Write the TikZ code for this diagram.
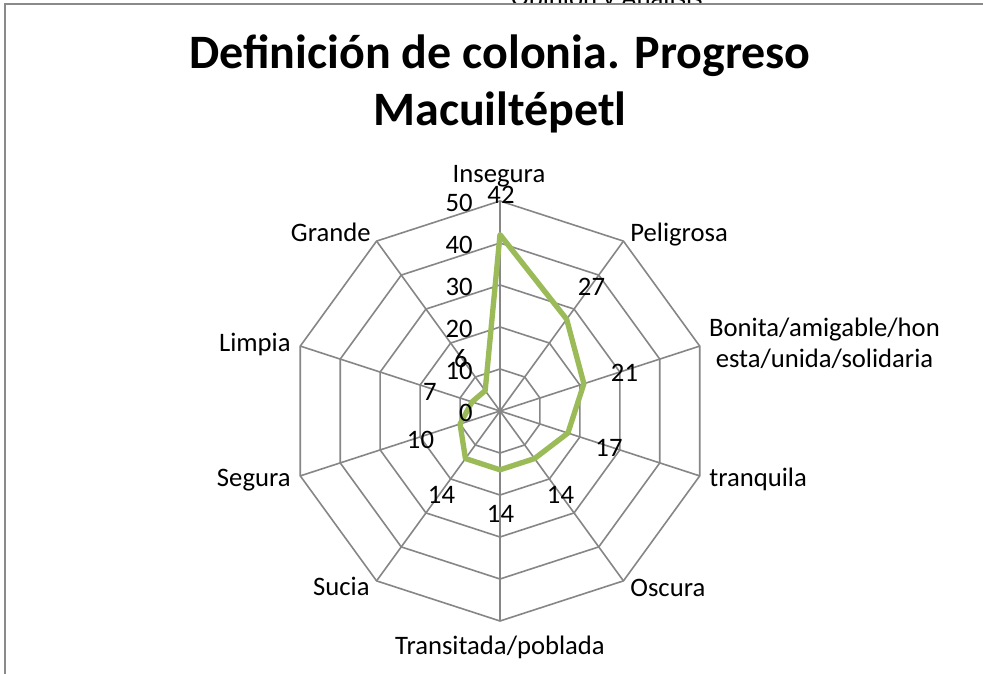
\documentclass[tikz,border=0pt]{standalone}
\usepackage{fontspec}
\setmainfont{Carlito}
\usetikzlibrary{positioning}
\definecolor{rejilla}{HTML}{868686}
\definecolor{verde}{HTML}{9BBB59}
\definecolor{marco}{HTML}{8A8A8A}

\begin{document}
\begin{tikzpicture}[x=0.75pt,y=0.75pt,semithick,
                    font=\fontsize{20}{23.6}\selectfont]
  \tikzstyle{every node}=[inner sep=0pt,text=black]
  \tikzstyle{grid}=[draw=rejilla,line width=1.2pt]
  \tikzstyle{serie}=[draw=verde,line width=4pt,line join=round]
  \tikzstyle{cat}=[anchor=base]
  \tikzstyle{eje}=[anchor=base east]
  \tikzstyle{dato}=[anchor=center]
  \tikzstyle{titulo}=[anchor=base,font=\fontsize{36}{42}\bfseries\selectfont]

  \useasboundingbox (0,0) rectangle (983,674);

  % encabezado de la pagina, tapado por el area del grafico
  \node (enc) [anchor=base] at (607,667) {Opinión y Análisis};
  \fill[white] (5,0) rectangle (983,670);
  \draw[marco,line width=1.5pt] (983,670) -- (5,670) -- (5,0);

  \node[titulo] (T1) at (500,605) {Definición de colonia. Progreso};
  \node[titulo] (T2) at (500,548) {Macuiltépetl};

  \begin{scope}[shift={(500,263)}]
    \foreach \r in {42,84,126,168,210}
      \draw[grid] (90:\r) \foreach \a in {54,18,...,-234} { -- (\a:\r) } -- cycle;
    \foreach \a in {90,54,...,-234}
      \draw[grid] (0,0) -- (\a:210);
    \draw[serie] (90:176.4) -- (54:113.4) -- (18:88.2) -- (-18:71.4) -- (-54:58.8)
                 -- (-90:58.8) -- (-126:58.8) -- (-162:42) -- (162:29.4) -- (126:25.2) -- cycle;
  \end{scope}

  \node[cat] (Ins) at (499,491) {Insegura};
  \node[cat,anchor=base west] (Pel) at (630,432) {Peligrosa};
  \node[cat,align=center] (Bon) at (824.5,306.5) {Bonita/amigable/hon\\esta/unida/solidaria};
  \node[cat,anchor=base west] (Tra) at (709,187) {tranquila};
  \node[cat,anchor=base west] (Osc) at (630,77) {Oscura};
  \node[cat] (Trp) at (500,19) {Transitada/poblada};
  \node[cat,anchor=base east] (Suc) at (370,78) {Sucia};
  \node[cat,anchor=base east] (Seg) at (291,187) {Segura};
  \node[cat,anchor=base east] (Lim) at (291,322) {Limpia};
  \node[cat,anchor=base east] (Gra) at (371,432) {Grande};

  \node[eje] (e0) at (473,252.3) {0};
  \node[eje] (e1) at (473,294.3) {10};
  \node[eje] (e2) at (473,336.3) {20};
  \node[eje] (e3) at (473,378.3) {30};
  \node[eje] (e4) at (473,420.3) {40};
  \node[eje] (e5) at (473,462.3) {50};

  \node[dato] (dIns) at (501,479) {42};
  \node[dato] (dPel) at (591.5,387.3) {27};
  \node[dato] (dBon) at (624.5,300.7) {21};
  \node[dato] (dTra) at (609,225.7) {17};
  \node[dato] (dOsc) at (560.5,179) {14};
  \node[dato] (dTrp) at (500.5,160) {14};
  \node[dato] (dSuc) at (441.5,179) {14};
  \node[dato] (dSeg) at (420.5,234.5) {10};
  \node[dato] (dLim) at (430,282) {7};
  \node[dato] (dGra) at (461,315.7) {6};
\end{tikzpicture}
\end{document}
